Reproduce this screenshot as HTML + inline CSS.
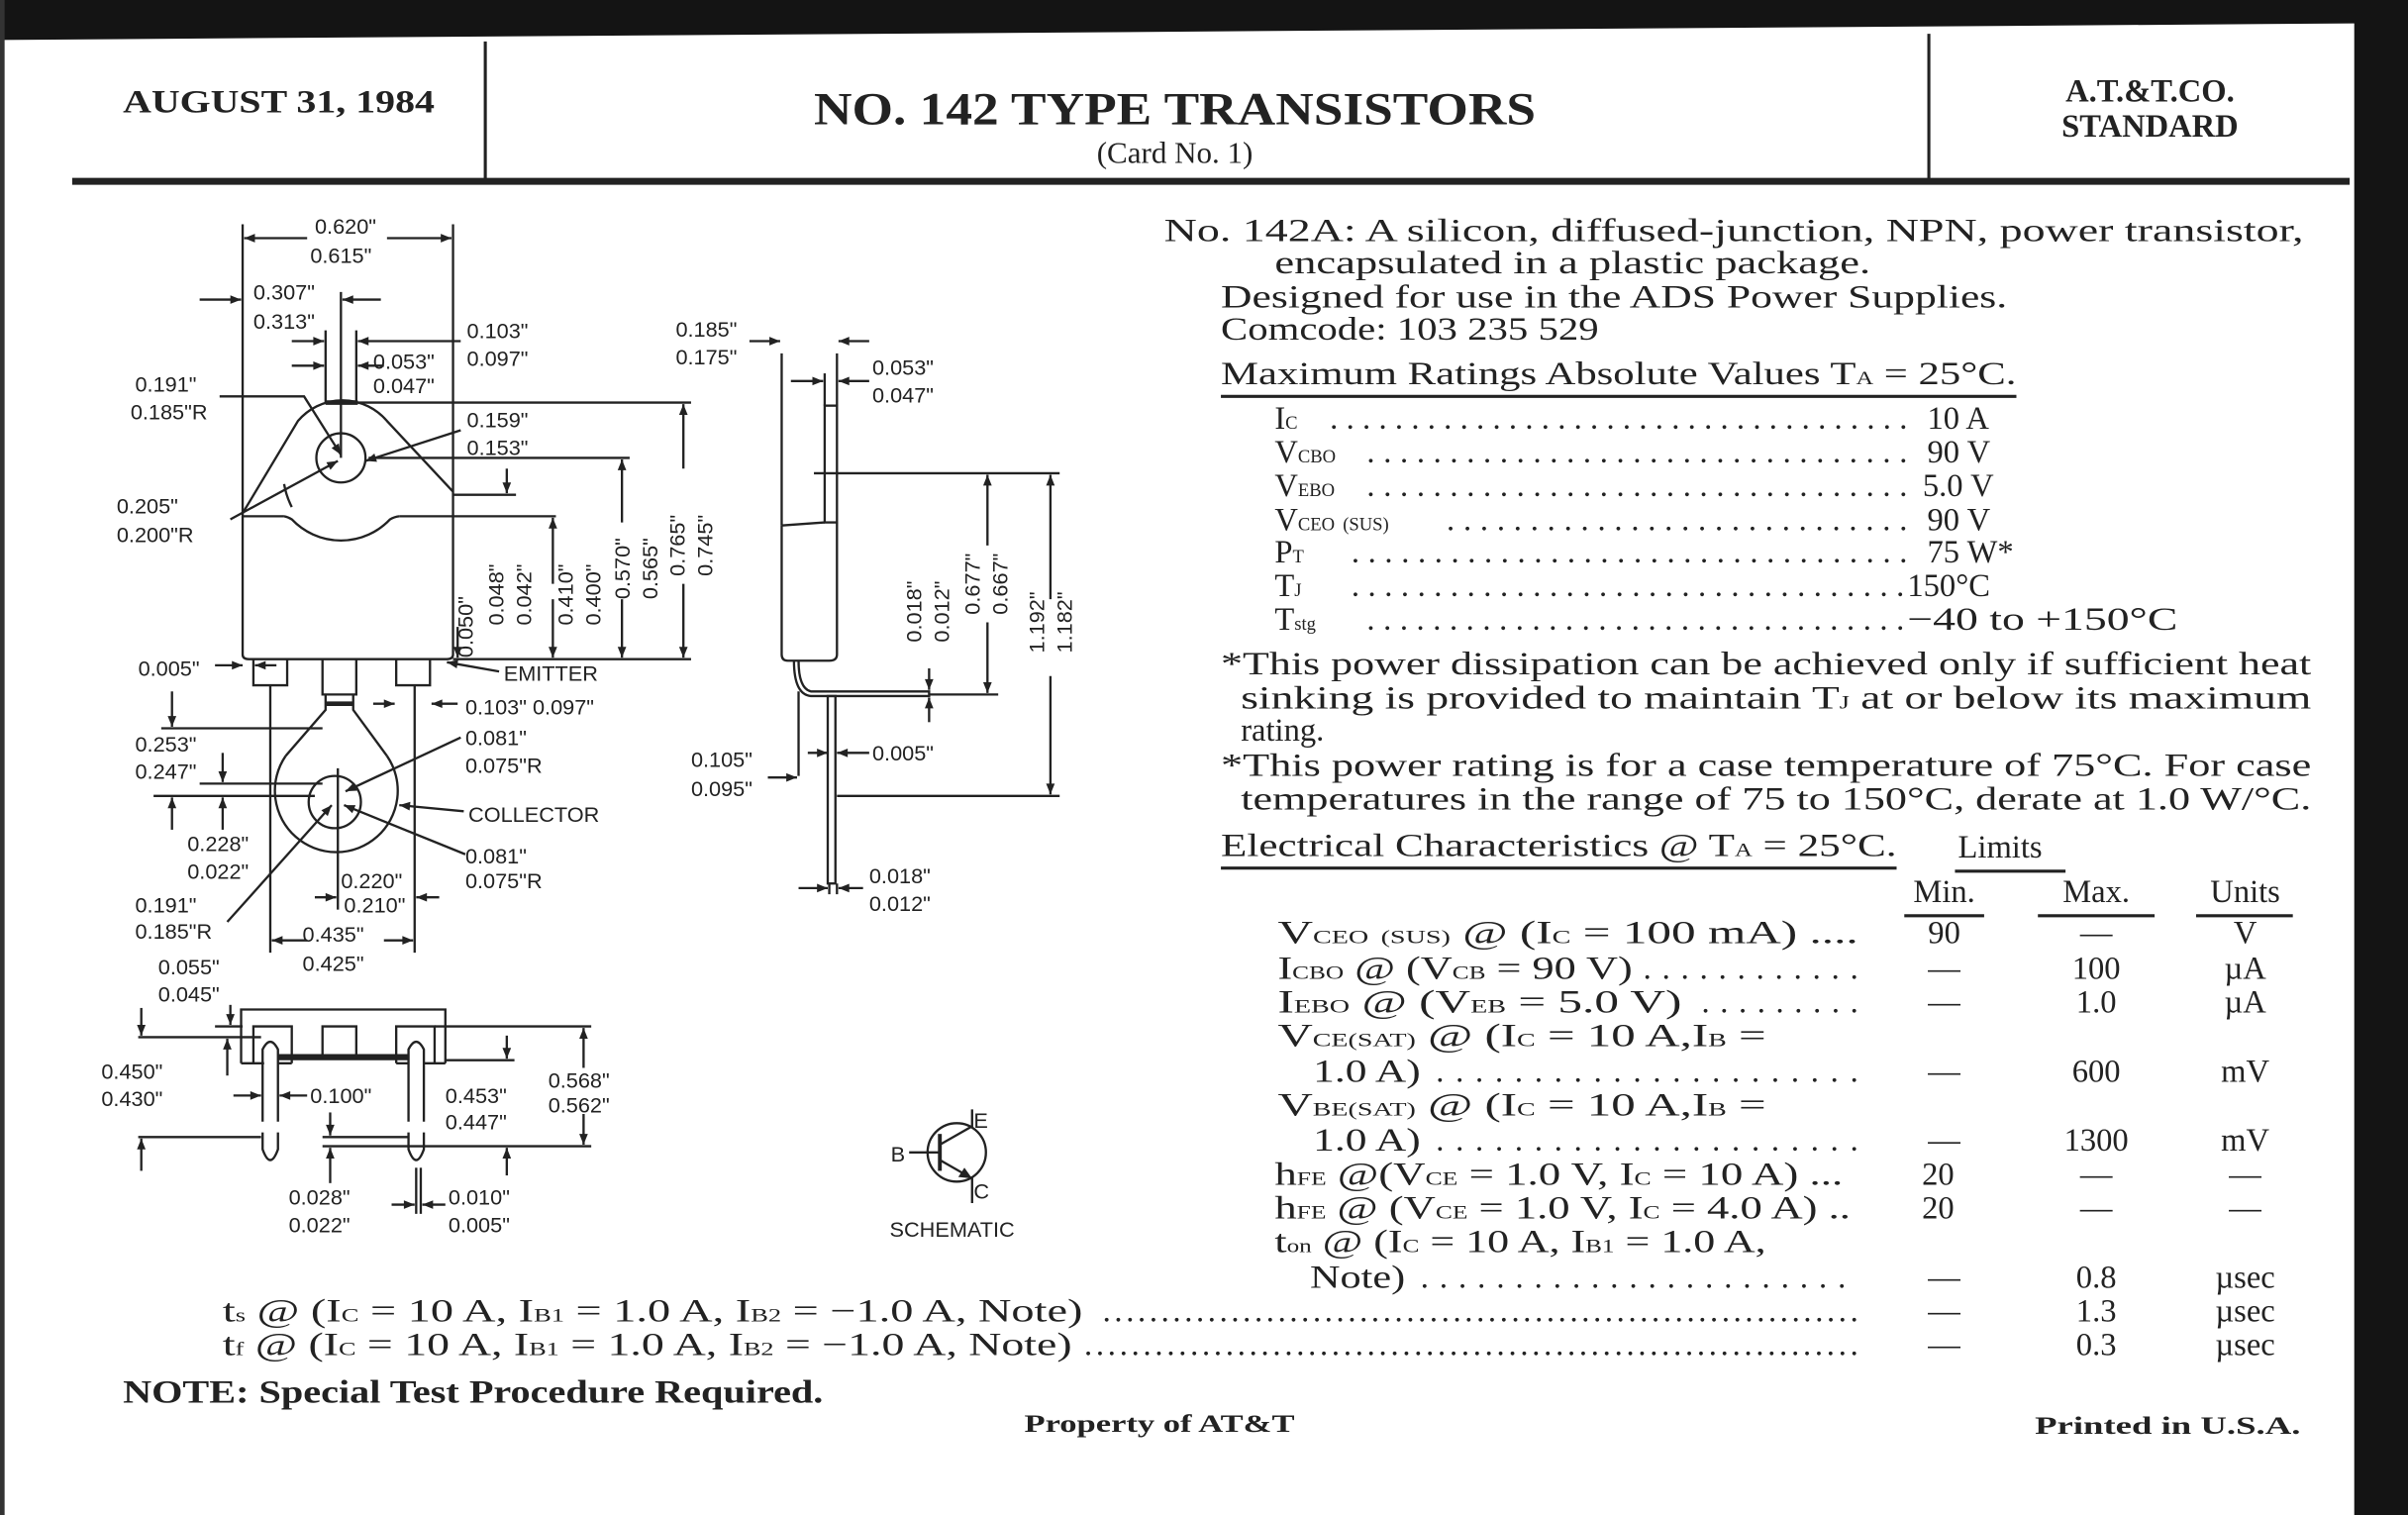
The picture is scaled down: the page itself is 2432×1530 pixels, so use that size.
<!DOCTYPE html>
<html><head><meta charset="utf-8"><style>
html,body{margin:0;padding:0;background:#fff}
svg{display:block}
.s{font-family:"Liberation Serif",serif;fill:#222}
.d{font-family:"Liberation Sans",sans-serif;font-size:14px;fill:#222}
.b{font-weight:bold}
</style></head><body>
<svg width="2432" height="1530" viewBox="0 0 1568 986" preserveAspectRatio="none" xmlns="http://www.w3.org/2000/svg">
<defs>
<marker id="a" viewBox="0 0 10 10" refX="10" refY="5" markerWidth="9" markerHeight="7" orient="auto-start-reverse" markerUnits="userSpaceOnUse"><path d="M0,1 L10,5 L0,9 z" fill="#222"/></marker>
</defs>
<rect width="1568" height="986" fill="#fff"/>
<path d="M0,0 H1568 V15 L0,26 z" fill="#141414"/>
<rect x="1533" y="0" width="35" height="986" fill="#141414"/>
<rect x="0" y="0" width="3" height="986" fill="#333"/>
<!-- header -->
<line x1="316" y1="27" x2="316" y2="118" stroke="#222" stroke-width="2"/>
<line x1="1256" y1="22" x2="1256" y2="117" stroke="#222" stroke-width="2"/>
<path d="M47,118 L1530,118" stroke="#222" stroke-width="4.5"/>
<text class="s b" x="80" y="73" font-size="21" textLength="203" lengthAdjust="spacingAndGlyphs">AUGUST 31, 1984</text>
<text class="s b" x="530" y="81" font-size="30" textLength="470" lengthAdjust="spacingAndGlyphs">NO.  142 TYPE TRANSISTORS</text>
<text class="s" x="765" y="106" font-size="20" text-anchor="middle">(Card No. 1)</text>
<text class="s b" x="1400" y="66" font-size="21" text-anchor="middle">A.T.&amp;T.CO.</text>
<text class="s b" x="1400" y="89" font-size="21" text-anchor="middle">STANDARD</text>

<!-- right text -->
<g class="s" font-size="21">
<text x="758" y="157" textLength="742" lengthAdjust="spacingAndGlyphs">No. 142A: A silicon, diffused-junction, NPN, power transistor,</text>
<text x="830" y="178" textLength="388" lengthAdjust="spacingAndGlyphs">encapsulated in a plastic package.</text>
<text x="795" y="200" textLength="512" lengthAdjust="spacingAndGlyphs">Designed for use in the ADS Power Supplies.</text>
<text x="795" y="221" textLength="246" lengthAdjust="spacingAndGlyphs">Comcode: 103 235 529</text>
<text x="795" y="250" textLength="518" lengthAdjust="spacingAndGlyphs">Maximum Ratings Absolute Values T<tspan font-size="12">A</tspan> = 25°C.</text>
</g>
<line x1="795" y1="258" x2="1313" y2="258" stroke="#222" stroke-width="2"/>
<g class="s" font-size="21">
<text x="830" y="279">I<tspan font-size="12">C</tspan></text><text x="866" y="279" textLength="376">....................................</text><text x="1255" y="279">10  A</text>
<text x="830" y="301">V<tspan font-size="12">CBO</tspan></text><text x="890" y="301" textLength="352">.................................</text><text x="1255" y="301">90  V</text>
<text x="830" y="323">V<tspan font-size="12">EBO</tspan></text><text x="890" y="323" textLength="352">.................................</text><text x="1252" y="323">5.0  V</text>
<text x="830" y="345">V<tspan font-size="12">CEO</tspan> <tspan font-size="12">(SUS)</tspan></text><text x="942" y="345" textLength="300">............................</text><text x="1255" y="345">90  V</text>
<text x="830" y="366">P<tspan font-size="12">T</tspan></text><text x="880" y="366" textLength="362">..................................</text><text x="1255" y="366">75  W*</text>
<text x="830" y="388">T<tspan font-size="12">J</tspan></text><text x="880" y="388" textLength="360">..................................</text><text x="1242" y="388">150°C</text>
<text x="830" y="410">T<tspan font-size="12">stg</tspan></text><text x="890" y="410" textLength="350">.................................</text><text x="1242" y="410" textLength="176" lengthAdjust="spacingAndGlyphs">−40 to +150°C</text>
<text x="795" y="439" textLength="710" lengthAdjust="spacingAndGlyphs">*This power dissipation can be achieved only if sufficient heat</text>
<text x="808" y="461" textLength="697" lengthAdjust="spacingAndGlyphs">sinking is provided to maintain T<tspan font-size="12">J</tspan> at or below its maximum</text>
<text x="808" y="482">rating.</text>
<text x="795" y="505" textLength="710" lengthAdjust="spacingAndGlyphs">*This power rating is for a case temperature of 75°C. For case</text>
<text x="808" y="527" textLength="697" lengthAdjust="spacingAndGlyphs">temperatures in the range of 75 to 150°C, derate at 1.0 W/°C.</text>
<text x="795" y="557" textLength="440" lengthAdjust="spacingAndGlyphs">Electrical Characteristics @ T<tspan font-size="12">A</tspan> = 25°C.</text>
<text x="1275" y="558">Limits</text>
<text x="1266" y="587" text-anchor="middle">Min.</text>
<text x="1365" y="587" text-anchor="middle">Max.</text>
<text x="1462" y="587" text-anchor="middle">Units</text>
</g>
<g stroke="#222" stroke-width="2">
<line x1="795" y1="565" x2="1235" y2="565"/><line x1="1273" y1="567" x2="1345" y2="567"/>
<line x1="1240" y1="596" x2="1292" y2="596"/><line x1="1327" y1="596" x2="1403" y2="596"/><line x1="1430" y1="596" x2="1493" y2="596"/>
</g>
<g class="s" font-size="21">
<text x="832" y="614" textLength="378" lengthAdjust="spacingAndGlyphs">V<tspan font-size="12">CEO</tspan> <tspan font-size="12">(SUS)</tspan> @ (I<tspan font-size="12">C</tspan> = 100 mA) ....</text><text x="1266" y="614" text-anchor="middle">90</text><text x="1365" y="614" text-anchor="middle">—</text><text x="1462" y="614" text-anchor="middle">V</text>
<text x="832" y="637" textLength="231" lengthAdjust="spacingAndGlyphs">I<tspan font-size="12">CBO</tspan> @ (V<tspan font-size="12">CB</tspan> = 90 V)</text><text x="1070" y="637" textLength="140">............</text><text x="1266" y="637" text-anchor="middle">—</text><text x="1365" y="637" text-anchor="middle">100</text><text x="1462" y="637" text-anchor="middle">µA</text>
<text x="832" y="659" textLength="263" lengthAdjust="spacingAndGlyphs">I<tspan font-size="12">EBO</tspan> @ (V<tspan font-size="12">EB</tspan> = 5.0 V)</text><text x="1108" y="659" textLength="102">.........</text><text x="1266" y="659" text-anchor="middle">—</text><text x="1365" y="659" text-anchor="middle">1.0</text><text x="1462" y="659" text-anchor="middle">µA</text>
<text x="832" y="681" textLength="318" lengthAdjust="spacingAndGlyphs">V<tspan font-size="12">CE</tspan><tspan font-size="12">(SAT)</tspan> @ (I<tspan font-size="12">C</tspan> = 10 A,I<tspan font-size="12">B</tspan> =</text>
<text x="855" y="704" textLength="70" lengthAdjust="spacingAndGlyphs">1.0 A)</text><text x="935" y="704" textLength="275">......................</text><text x="1266" y="704" text-anchor="middle">—</text><text x="1365" y="704" text-anchor="middle">600</text><text x="1462" y="704" text-anchor="middle">mV</text>
<text x="832" y="726" textLength="318" lengthAdjust="spacingAndGlyphs">V<tspan font-size="12">BE</tspan><tspan font-size="12">(SAT)</tspan> @ (I<tspan font-size="12">C</tspan> = 10 A,I<tspan font-size="12">B</tspan> =</text>
<text x="855" y="749" textLength="70" lengthAdjust="spacingAndGlyphs">1.0 A)</text><text x="935" y="749" textLength="275">......................</text><text x="1266" y="749" text-anchor="middle">—</text><text x="1365" y="749" text-anchor="middle">1300</text><text x="1462" y="749" text-anchor="middle">mV</text>
<text x="830" y="771" textLength="370" lengthAdjust="spacingAndGlyphs">h<tspan font-size="12">FE</tspan> @(V<tspan font-size="12">CE</tspan> = 1.0 V, I<tspan font-size="12">C</tspan> = 10 A) ...</text><text x="1262" y="771" text-anchor="middle">20</text><text x="1365" y="771" text-anchor="middle">—</text><text x="1462" y="771" text-anchor="middle">—</text>
<text x="830" y="793" textLength="375" lengthAdjust="spacingAndGlyphs">h<tspan font-size="12">FE</tspan> @ (V<tspan font-size="12">CE</tspan> = 1.0 V, I<tspan font-size="12">C</tspan> = 4.0 A) ..</text><text x="1262" y="793" text-anchor="middle">20</text><text x="1365" y="793" text-anchor="middle">—</text><text x="1462" y="793" text-anchor="middle">—</text>
<text x="830" y="815" textLength="320" lengthAdjust="spacingAndGlyphs">t<tspan font-size="12">on</tspan> @ (I<tspan font-size="12">C</tspan> = 10 A, I<tspan font-size="12">B1</tspan> = 1.0 A,</text>
<text x="853" y="838" textLength="62" lengthAdjust="spacingAndGlyphs">Note)</text><text x="925" y="838" textLength="277">.......................</text><text x="1266" y="838" text-anchor="middle">—</text><text x="1365" y="838" text-anchor="middle">0.8</text><text x="1462" y="838" text-anchor="middle">µsec</text>
<text x="145" y="860" textLength="560" lengthAdjust="spacingAndGlyphs">t<tspan font-size="12">s</tspan> @ (I<tspan font-size="12">C</tspan> = 10 A, I<tspan font-size="12">B1</tspan> =  1.0 A, I<tspan font-size="12">B2</tspan>  = −1.0 A, Note)</text><text x="718" y="860" textLength="492">.................................................................</text><text x="1266" y="860" text-anchor="middle">—</text><text x="1365" y="860" text-anchor="middle">1.3</text><text x="1462" y="860" text-anchor="middle">µsec</text>
<text x="145" y="882" textLength="553" lengthAdjust="spacingAndGlyphs">t<tspan font-size="12">f</tspan> @ (I<tspan font-size="12">C</tspan> = 10 A, I<tspan font-size="12">B1</tspan> = 1.0 A, I<tspan font-size="12">B2</tspan> = −1.0 A, Note)</text><text x="706" y="882" textLength="504">..................................................................</text><text x="1266" y="882" text-anchor="middle">—</text><text x="1365" y="882" text-anchor="middle">0.3</text><text x="1462" y="882" text-anchor="middle">µsec</text>
<text class="b" x="80" y="913" textLength="456" lengthAdjust="spacingAndGlyphs">NOTE: Special Test Procedure Required.</text>
</g>
<text class="s b" x="667" y="932" font-size="16" textLength="176" lengthAdjust="spacingAndGlyphs">Property of AT&amp;T</text>
<text class="s b" x="1325" y="933" font-size="16" textLength="173" lengthAdjust="spacingAndGlyphs">Printed in U.S.A.</text>

<!-- FRONT VIEW -->
<g fill="none" stroke="#222" stroke-width="1.5">
<line x1="158" y1="146" x2="158" y2="426"/><line x1="295" y1="146" x2="295" y2="426"/>
<path d="M158,426 Q158,429 162,429 H291 Q295,429 295,426"/>
<path d="M158,334 L194,274 A38,38 0 0 1 252,274 L295,320"/>
<line x1="212" y1="262" x2="233" y2="262" stroke-width="3"/>
<line x1="158" y1="336" x2="185" y2="336"/><line x1="260" y1="336" x2="295" y2="336"/>
<path d="M185,336 A14,14 0 0 1 190,338 A44,44 0 0 0 254,338 A14,14 0 0 1 260,336"/>
<path d="M185,315 A52,52 0 0 0 190,330"/>
<circle cx="222" cy="298" r="16"/>
<path d="M165,429 V446 H187 V429"/><path d="M258,429 V446 H280 V429"/>
<path d="M210,429 V452 H232 V429"/>
<path d="M212,452 L212,462 L186,492"/><path d="M230,452 L230,462 L252,492"/>
<line x1="212" y1="458" x2="230" y2="458" stroke-width="3"/>
<path d="M186,492 A40,40 0 1 0 252,492"/>
<circle cx="218" cy="522" r="17"/>
<line x1="176" y1="446" x2="176" y2="620"/><line x1="270" y1="446" x2="270" y2="620"/>
<line x1="220" y1="500" x2="220" y2="592"/>
<line x1="222" y1="190" x2="222" y2="298"/><line x1="212" y1="215" x2="212" y2="262"/><line x1="232" y1="215" x2="232" y2="262"/>
<line x1="233" y1="262" x2="450" y2="262"/><line x1="295" y1="429" x2="450" y2="429"/>
<line x1="240" y1="298" x2="410" y2="298"/><line x1="295" y1="322" x2="336" y2="322"/><line x1="295" y1="336" x2="362" y2="336"/>
<line x1="105" y1="474" x2="210" y2="474"/><line x1="130" y1="510" x2="210" y2="510"/><line x1="100" y1="518" x2="205" y2="518"/>
</g>
<g stroke="#222" stroke-width="1.5" fill="none" marker-end="url(#a)">
<line x1="200" y1="155" x2="159" y2="155"/><line x1="252" y1="155" x2="294" y2="155"/>
<line x1="130" y1="195" x2="157" y2="195"/><line x1="248" y1="195" x2="223" y2="195"/>
<line x1="190" y1="222" x2="211" y2="222"/><line x1="300" y1="222" x2="233" y2="222"/>
<line x1="190" y1="238" x2="211" y2="238"/><line x1="250" y1="238" x2="233" y2="238"/>
<polyline points="143,258 198,258 222,296"/>
<line x1="300" y1="280" x2="238" y2="300"/>
<line x1="150" y1="338" x2="220" y2="300"/>
<line x1="330" y1="305" x2="330" y2="321"/>
<line x1="298" y1="408" x2="298" y2="428"/>
<line x1="360" y1="380" x2="360" y2="337"/><line x1="360" y1="390" x2="360" y2="428"/>
<line x1="405" y1="340" x2="405" y2="299"/><line x1="405" y1="390" x2="405" y2="428"/>
<line x1="445" y1="305" x2="445" y2="263"/><line x1="445" y1="380" x2="445" y2="428"/>
<line x1="140" y1="433" x2="158" y2="433"/><line x1="180" y1="433" x2="166" y2="433"/>
<line x1="325" y1="437" x2="291" y2="431"/>
<line x1="298" y1="458" x2="281" y2="458"/><line x1="243" y1="458" x2="257" y2="458"/>
<line x1="112" y1="450" x2="112" y2="473"/><line x1="145" y1="490" x2="145" y2="509"/>
<line x1="112" y1="540" x2="112" y2="519"/><line x1="145" y1="540" x2="145" y2="519"/>
<line x1="300" y1="480" x2="225" y2="515"/><line x1="302" y1="528" x2="260" y2="524"/>
<line x1="303" y1="556" x2="224" y2="524"/><line x1="148" y1="600" x2="216" y2="524"/>
<line x1="205" y1="584" x2="219" y2="584"/><line x1="286" y1="584" x2="271" y2="584"/>
<line x1="200" y1="612" x2="177" y2="612"/><line x1="250" y1="612" x2="269" y2="612"/>
</g>
<g class="d">
<text x="225" y="152" text-anchor="middle">0.620"</text><text x="222" y="171" text-anchor="middle">0.615"</text>
<text x="165" y="195">0.307"</text><text x="165" y="214">0.313"</text>
<text x="304" y="220">0.103"</text><text x="304" y="238">0.097"</text>
<text x="243" y="240">0.053"</text><text x="243" y="256">0.047"</text>
<text x="88" y="255">0.191"</text><text x="85" y="273">0.185"R</text>
<text x="304" y="278">0.159"</text><text x="304" y="296">0.153"</text>
<text x="76" y="334">0.205"</text><text x="76" y="353">0.200"R</text>
<text x="90" y="440">0.005"</text>
<text x="328" y="443">EMITTER</text>
<text x="303" y="465">0.103" 0.097"</text>
<text x="88" y="489">0.253"</text><text x="88" y="507">0.247"</text>
<text x="303" y="485">0.081"</text><text x="303" y="503">0.075"R</text>
<text x="305" y="535">COLLECTOR</text>
<text x="122" y="554">0.228"</text><text x="122" y="572">0.022"</text>
<text x="303" y="562">0.081"</text><text x="303" y="578">0.075"R</text>
<text x="222" y="578">0.220"</text><text x="224" y="594">0.210"</text>
<text x="88" y="594">0.191"</text><text x="88" y="611">0.185"R</text>
<text x="197" y="613">0.435"</text><text x="197" y="632">0.425"</text>
<text x="103" y="634">0.055"</text><text x="103" y="652">0.045"</text>
<g transform="rotate(-90)">
<text x="-428" y="308">0.050"</text>
<text x="-407" y="328">0.048"</text><text x="-407" y="346">0.042"</text>
<text x="-407" y="373">0.410"</text><text x="-407" y="391">0.400"</text>
<text x="-390" y="410">0.570"</text><text x="-390" y="428">0.565"</text>
<text x="-375" y="446">0.765"</text><text x="-375" y="464">0.745"</text>
<text x="-418" y="600">0.018"</text><text x="-418" y="618">0.012"</text>
<text x="-400" y="638">0.677"</text><text x="-400" y="656">0.667"</text>
<text x="-425" y="680">1.192"</text><text x="-425" y="698">1.182"</text>
</g>
</g>

<!-- SIDE VIEW -->
<g fill="none" stroke="#222" stroke-width="1.5">
<rect x="537" y="264" width="8" height="76"/>
<path d="M509,342 L537,340 M545,340 V426 Q545,430 540,430 H513 Q509,430 509,426 V342"/>
<path d="M520,430 Q520,448 528,450 H605 V453 H528 Q517,452 517,430"/>
<rect x="539" y="453" width="5" height="122"/>
<line x1="509" y1="230" x2="509" y2="342"/><line x1="545" y1="230" x2="545" y2="264"/>
<line x1="537" y1="243" x2="537" y2="264"/>
<line x1="530" y1="308" x2="690" y2="308"/><line x1="545" y1="518" x2="690" y2="518"/>
<line x1="605" y1="452" x2="650" y2="452"/>
<line x1="520" y1="450" x2="520" y2="505"/>
<line x1="540" y1="575" x2="540" y2="582"/><line x1="545" y1="575" x2="545" y2="582"/>
</g>
<g stroke="#222" stroke-width="1.5" fill="none" marker-end="url(#a)">
<line x1="488" y1="222" x2="508" y2="222"/><line x1="566" y1="222" x2="546" y2="222"/>
<line x1="515" y1="248" x2="536" y2="248"/><line x1="566" y1="248" x2="546" y2="248"/>
<line x1="605" y1="435" x2="605" y2="449"/><line x1="605" y1="470" x2="605" y2="454"/>
<line x1="643" y1="355" x2="643" y2="309"/><line x1="643" y1="405" x2="643" y2="451"/>
<line x1="684" y1="390" x2="684" y2="309"/><line x1="684" y1="440" x2="684" y2="517"/>
<line x1="500" y1="506" x2="519" y2="506"/>
<line x1="526" y1="490" x2="539" y2="490"/><line x1="566" y1="490" x2="545" y2="490"/>
<line x1="520" y1="578" x2="539" y2="578"/><line x1="562" y1="578" x2="546" y2="578"/>
</g>
<g class="d">
<text x="440" y="219">0.185"</text><text x="440" y="237">0.175"</text>
<text x="568" y="244">0.053"</text><text x="568" y="262">0.047"</text>
<text x="450" y="499">0.105"</text><text x="450" y="518">0.095"</text>
<text x="568" y="495">0.005"</text>
<text x="566" y="575">0.018"</text><text x="566" y="593">0.012"</text>
</g>

<!-- BOTTOM VIEW -->
<g fill="none" stroke="#222" stroke-width="1.5">
<path d="M157,692 V657 H290 V692"/>
<path d="M157,692 H172 M181,692 H190 M258,692 H266 M276,692 H290"/>
<path d="M165,692 V668 H190 V692"/><path d="M210,688 V668 H232 V688"/><path d="M258,692 V668 H283 V692"/>
<path d="M171,730 V683 Q176,673 181,683 V730"/>
<path d="M266,730 V683 Q271,673 276,683 V730"/>
<path d="M171,737 V748 Q176,762 181,748 V737"/>
<path d="M266,737 V748 Q271,762 276,748 V737"/>
<line x1="181" y1="688" x2="266" y2="688" stroke-width="4"/>
<line x1="140" y1="668" x2="158" y2="668"/><line x1="283" y1="668" x2="385" y2="668"/>
<line x1="90" y1="675" x2="170" y2="675"/>
<line x1="290" y1="690" x2="335" y2="690"/>
<line x1="90" y1="740" x2="170" y2="740"/>
<line x1="210" y1="740" x2="266" y2="740"/><line x1="210" y1="746" x2="385" y2="746"/>
<line x1="271" y1="760" x2="271" y2="790"/><line x1="274" y1="760" x2="274" y2="790"/>
</g>
<g stroke="#222" stroke-width="1.5" fill="none" marker-end="url(#a)">
<line x1="150" y1="654" x2="150" y2="667"/>
<line x1="92" y1="656" x2="92" y2="674"/><line x1="148" y1="700" x2="148" y2="676"/>
<line x1="92" y1="762" x2="92" y2="741"/>
<line x1="380" y1="695" x2="380" y2="669"/><line x1="380" y1="725" x2="380" y2="745"/>
<line x1="330" y1="674" x2="330" y2="689"/><line x1="330" y1="765" x2="330" y2="747"/>
<line x1="152" y1="713" x2="170" y2="713"/><line x1="200" y1="713" x2="182" y2="713"/>
<line x1="215" y1="724" x2="215" y2="739"/><line x1="215" y1="770" x2="215" y2="747"/>
<line x1="255" y1="784" x2="270" y2="784"/><line x1="290" y1="784" x2="275" y2="784"/>
</g>
<g class="d">
<text x="66" y="702">0.450"</text><text x="66" y="720">0.430"</text>
<text x="202" y="718">0.100"</text>
<text x="290" y="718">0.453"</text><text x="290" y="735">0.447"</text>
<text x="357" y="708">0.568"</text><text x="357" y="724">0.562"</text>
<text x="188" y="784">0.028"</text><text x="188" y="802">0.022"</text>
<text x="292" y="784">0.010"</text><text x="292" y="802">0.005"</text>
</g>

<!-- schematic -->
<g fill="none" stroke="#222" stroke-width="1.5">
<circle cx="623" cy="750" r="19"/>
<line x1="592" y1="750" x2="612" y2="750"/>
<line x1="612" y1="738" x2="612" y2="762" stroke-width="2.5"/>
<path d="M612,745 L633,733 V722"/><path d="M612,755 L633,767 V783"/>
</g>
<path d="M633,767 L624,766 L628,760 z" fill="#222"/>
<g class="d">
<text x="580" y="756">B</text><text x="634" y="734">E</text><text x="634" y="780">C</text>
<text x="620" y="805" text-anchor="middle">SCHEMATIC</text>
</g>
</svg>
</body></html>
